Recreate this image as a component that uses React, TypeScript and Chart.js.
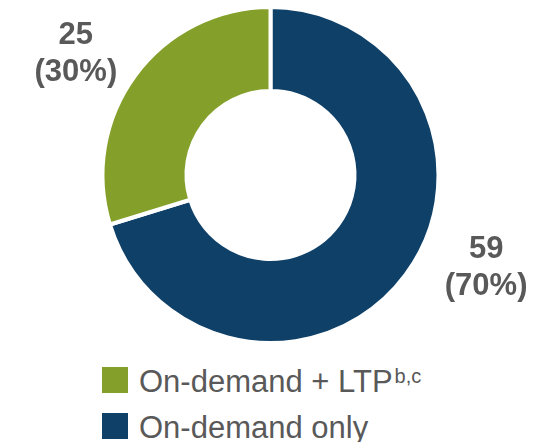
import React, { useEffect, useRef } from "react";
import { Chart, registerables } from "chart.js";

Chart.register(...registerables);

// ---- data ----
const categories = ["On-demand only", "On-demand + LTP"];
const counts = [59, 25];
const percents = [70, 30];
const legendOrder = [1, 0];
const legendSuperscripts = ["", "b,c"];

// ---- styles ----
const colors = ["#0f4068", "#84a02a"];
const TEXT = "#595959";
const FONT = "'Liberation Sans', Arial, Helvetica, sans-serif";
const labelNudge: [number, number][] = [
  [31, -43],
  [-10, 15],
];

const labelPlugin = {
  id: "sliceLabels",
  afterDatasetsDraw(chart: any) {
    const meta = chart.getDatasetMeta(0);
    const ctx = chart.ctx as CanvasRenderingContext2D;
    ctx.save();
    ctx.font = `bold 31px ${FONT}`;
    ctx.fillStyle = TEXT;
    ctx.textAlign = "center";
    ctx.textBaseline = "middle";
    meta.data.forEach((arc: any, i: number) => {
      const p = arc.getProps(["x", "y", "startAngle", "endAngle", "outerRadius"], true);
      const mid = (p.startAngle + p.endAngle) / 2;
      const d = p.outerRadius * 1.366;
      const cx = p.x + Math.cos(mid) * d + labelNudge[i][0];
      const cy = p.y + Math.sin(mid) * d + labelNudge[i][1];
      ctx.fillText(String(counts[i]), cx, cy - 18.5);
      ctx.fillText(`(${percents[i]}%)`, cx, cy + 18.5);
    });
    ctx.restore();
  },
};

export default function App() {
  const canvasRef = useRef<HTMLCanvasElement | null>(null);

  useEffect(() => {
    if (!canvasRef.current) return;
    const chart = new Chart(canvasRef.current, {
      type: "doughnut",
      data: {
        labels: categories,
        datasets: [
          {
            data: counts,
            backgroundColor: colors,
            borderColor: "#ffffff",
            borderWidth: 4,
            hoverOffset: 0,
          },
        ],
      },
      options: {
        responsive: false,
        maintainAspectRatio: false,
        animation: false,
        cutout: "50%",
        layout: { padding: { left: 100.5, right: 101.5, top: 5, bottom: 15 } },
        plugins: {
          legend: { display: false },
          tooltip: { enabled: false },
        },
      },
      plugins: [labelPlugin],
    });
    return () => chart.destroy();
  }, []);

  return (
    <div
      style={{
        position: "fixed",
        left: 0,
        top: 0,
        width: 542,
        height: 442,
        background: "#ffffff",
        overflow: "hidden",
        fontFamily: FONT,
      }}
    >
      <canvas
        ref={canvasRef}
        width={542}
        height={360}
        style={{ position: "absolute", left: 0, top: 0, width: 542, height: 360 }}
      />
      {legendOrder.map((idx, row) => (
        <React.Fragment key={idx}>
          <div
            style={{
              position: "absolute",
              left: 102,
              top: 367 + 46 * row,
              width: 26,
              height: 26,
              background: colors[idx],
            }}
          />
          <div
            style={{
              position: "absolute",
              left: 139,
              top: 366 + 46 * row,
              fontSize: 31,
              lineHeight: "31px",
              color: TEXT,
              whiteSpace: "nowrap",
            }}
          >
            {categories[idx]}
            {legendSuperscripts[idx] ? (
              <span style={{ fontSize: 20, position: "relative", top: -9, marginLeft: 2 }}>
                {legendSuperscripts[idx]}
              </span>
            ) : null}
          </div>
        </React.Fragment>
      ))}
    </div>
  );
}
